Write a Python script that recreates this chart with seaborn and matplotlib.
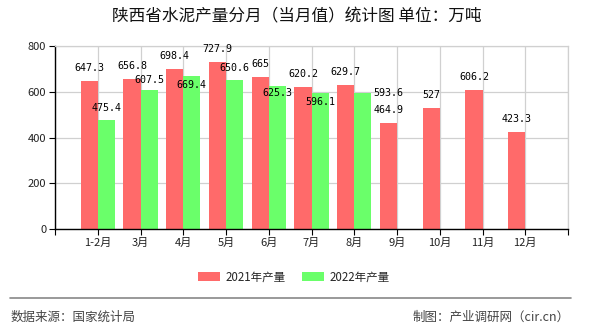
import matplotlib
matplotlib.use("Agg")
import matplotlib.pyplot as plt
import seaborn as sns
import pandas as pd
import numpy as np
from matplotlib.patches import Patch
from matplotlib.lines import Line2D

months = ["1-2月", "3月", "4月", "5月", "6月", "7月", "8月", "9月", "10月", "11月", "12月"]
vals_2021 = [647.3, 656.8, 698.4, 727.9, 665, 620.2, 629.7, 464.9, 527, 606.2, 423.3]
vals_2022 = [475.4, 607.5, 669.4, 650.6, 625.3, 596.1, 593.6, np.nan, np.nan, np.nan, np.nan]
series = ["2021年产量", "2022年产量"]
colors = ["#FF6A6A", "#6AFF6A"]
yticks = [0, 200, 400, 600, 800]
title = "陕西省水泥产量分月（当月值）统计图 单位：万吨"
source = "数据来源：国家统计局"
credit = "制图：产业调研网（cir.cn）"

# label offsets (pixels) for value labels, mimicking the overlap avoidance of the reference
off_2021 = [(0, 13)] * 11
off_2022 = [(0, 12), (0, 10), (0, -9), (0, 12), (0, -7), (0, -9), (26, 0), None, None, None, None]

df = pd.DataFrame({
    "month": months * 2,
    "value": vals_2021 + vals_2022,
    "series": [series[0]] * len(months) + [series[1]] * len(months),
})

sns.set_theme(style="white")
plt.rcParams["font.family"] = ["Noto Sans CJK SC", "DejaVu Sans"]

fig = plt.figure(figsize=(5.9, 3.3), dpi=100)
ax = fig.add_axes([55 / 590, 1 - 229 / 330, 513 / 590, 183 / 330])

sns.barplot(data=df.dropna(), x="month", y="value", hue="series", order=months,
            hue_order=series, palette=colors, width=0.8, saturation=1,
            ax=ax, legend=False, edgecolor="none", linewidth=0)

ax.set_xlim(-1, 11)
ax.set_ylim(0, 800)
ax.set_yticks(yticks)
ax.set_yticklabels([str(v) for v in yticks], fontsize=8, color="#222222")
ax.set_xticks(range(-1, 12))
ax.set_xticklabels([""] + months + [""], fontsize=8, color="#222222")
ax.set_xlabel("")
ax.set_ylabel("")
ax.grid(True, color="#d0d0d0", linewidth=0.9)
ax.set_axisbelow(True)
ax.tick_params(axis="both", which="both", length=4.3, width=0.8, color="#000000",
               direction="out", left=True, bottom=True, pad=2)
for s in ["top", "right"]:
    ax.spines[s].set_color("#d0d0d0")
    ax.spines[s].set_linewidth(0.9)
for s in ["left", "bottom"]:
    ax.spines[s].set_color("#000000")
    ax.spines[s].set_linewidth(1.0)

def fmt(v):
    return "%g" % v

for i, v in enumerate(vals_2021):
    dx, dy = off_2021[i]
    ax.annotate(fmt(v), (i - 0.2, v), xytext=(dx, dy), textcoords="offset pixels",
                ha="center", va="center", fontsize=7.2, family="DejaVu Sans Mono", color="#000000")
for i, v in enumerate(vals_2022):
    if off_2022[i] is None or np.isnan(v):
        continue
    dx, dy = off_2022[i]
    ax.annotate(fmt(v), (i + 0.2, v), xytext=(dx, dy), textcoords="offset pixels",
                ha="center", va="center", fontsize=7.2, family="DejaVu Sans Mono", color="#000000")

fig.text(297 / 590, 1 - 17 / 330, title, ha="center", va="center", fontsize=12, color="#111111")

handles = [Patch(facecolor=colors[0], edgecolor="none"), Patch(facecolor=colors[1], edgecolor="none")]
fig.legend(handles, series, loc="center", bbox_to_anchor=(294 / 590, 1 - 277 / 330), ncol=2,
           frameon=False, fontsize=8.3, handlelength=1.9, handleheight=0.8,
           columnspacing=1.4, handletextpad=0.5)

fig.add_artist(Line2D([10 / 590, 571 / 590], [1 - 298 / 330, 1 - 298 / 330],
                      color="#888888", linewidth=1.2, transform=fig.transFigure))
fig.text(11 / 590, 1 - 317 / 330, source, ha="left", va="center", fontsize=9, color="#444444")
fig.text(570 / 590, 1 - 317 / 330, credit, ha="right", va="center", fontsize=9, color="#444444")

fig.savefig("out.png", dpi=100, facecolor="white")
